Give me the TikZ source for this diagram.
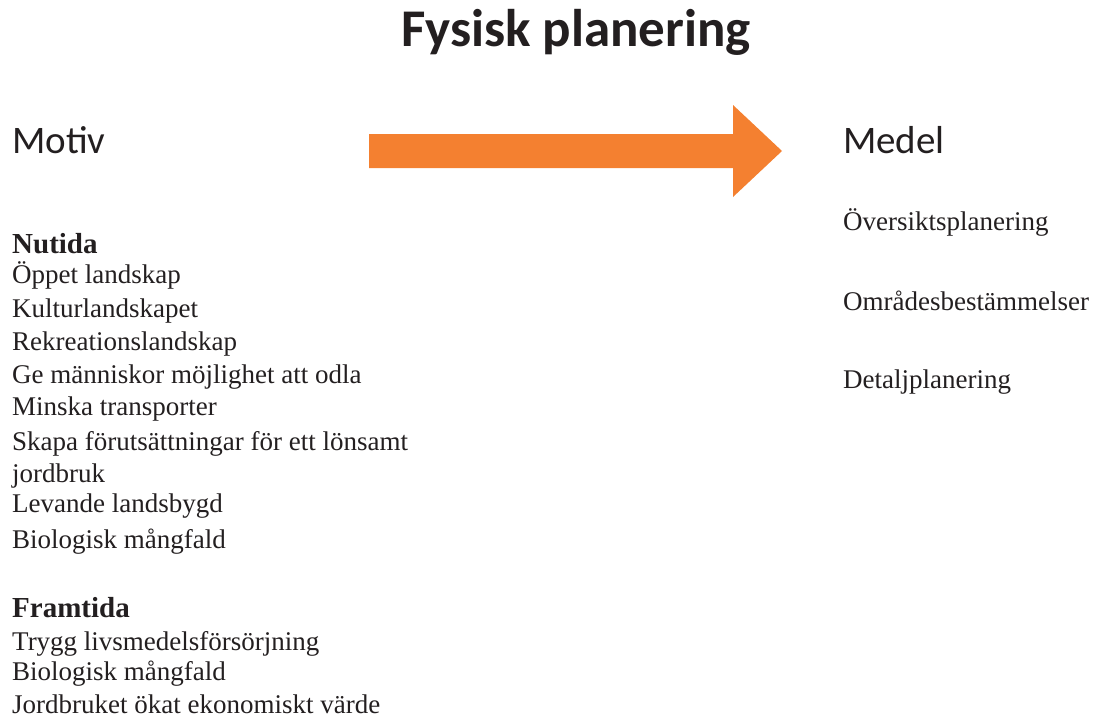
\documentclass[tikz,border=0pt]{standalone}
\usepackage{fontspec}
\setmainfont{Liberation Serif}
\newfontfamily\headfont{Carlito}
\definecolor{pilorange}{RGB}{244,128,48}
\definecolor{textsvart}{RGB}{35,31,32}
\begin{document}
\begin{tikzpicture}[x=1pt, y=-1pt, line join=miter, text=textsvart, font=\fontsize{27}{33}\selectfont]
	\tikzset{txt/.style={anchor=base west, inner sep=0pt},
		rubrik/.style={txt, font=\headfont\fontsize{39}{46}\selectfont},
		grupp/.style={txt, font=\fontsize{29}{35}\selectfont\bfseries}}
	\useasboundingbox (0,0) rectangle (1095,723);
	\node[anchor=base, inner sep=0pt, font=\headfont\bfseries\fontsize{53}{62}\selectfont] (titel) at (576,46) {Fysisk planering};
	\node[rubrik] (motiv) at (12,153) {Motiv};
	\node[rubrik] (medel) at (843,153) {Medel};
	% pilen
	\fill[pilorange] (369,134) -- (733,134) -- (733,105) -- (782,151) -- (733,197) -- (733,168) -- (369,168) -- cycle;
	\node[grupp] (nutida) at (12,253) {Nutida};
	\foreach \y/\t [count=\i] in {283/Öppet landskap, 317/Kulturlandskapet, 350/Rekreationslandskap,
		383/Ge människor möjlighet att odla, 415/Minska transporter,
		450/Skapa förutsättningar för ett lönsamt, 482/jordbruk, 512/Levande landsbygd, 548/Biologisk mångfald}
		\node[txt] (nu\i) at (12,\y) {\t};
	\node[grupp] (framtida) at (12,617) {Framtida};
	\foreach \y/\t [count=\i] in {650/Trygg livsmedelsförsörjning, 680/Biologisk mångfald, 713/Jordbruket ökat ekonomiskt värde}
		\node[txt] (fr\i) at (12,\y) {\t};
	\foreach \y/\t [count=\i] in {230/Översiktsplanering, 310/Områdesbestämmelser, 388/Detaljplanering}
		\node[txt] (me\i) at (843,\y) {\t};
\end{tikzpicture}
\end{document}
